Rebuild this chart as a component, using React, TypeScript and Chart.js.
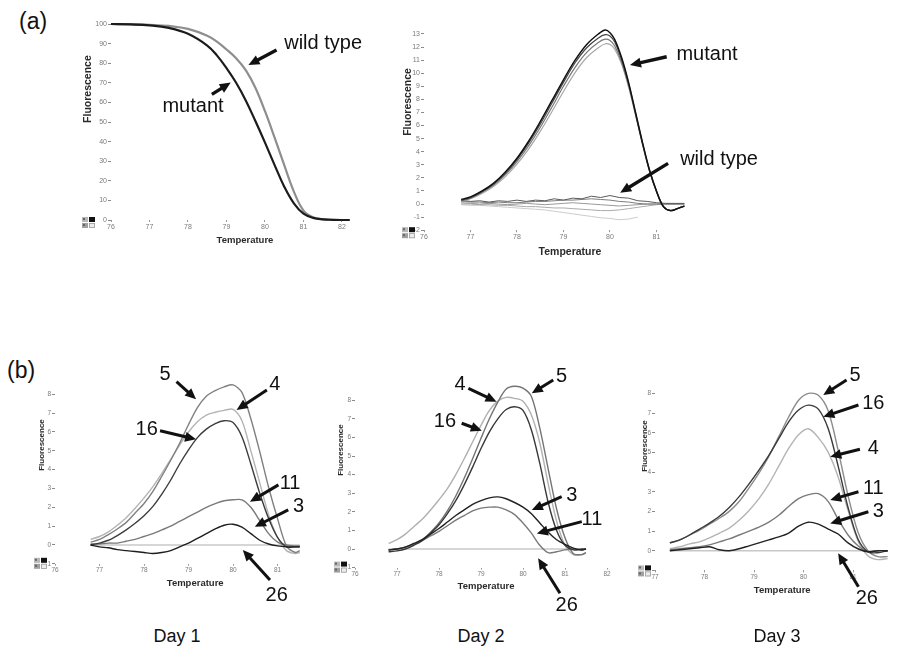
import React, { useEffect, useRef } from "react";
import { Chart, registerables } from "chart.js";

Chart.register(...registerables);
Chart.defaults.font.family = '"Liberation Sans", Arial, sans-serif';

// ---------- (a) melting curves, fluorescence (%) vs temperature ----------
const meltTemps = [76, 76.5, 77, 77.5, 78, 78.5, 78.75, 79, 79.25, 79.5, 79.75, 80, 80.25, 80.5, 80.75, 81, 81.25, 81.5, 81.75, 82, 82.2];
const meltMutant = [100, 99.8, 99.3, 98, 95, 89, 84, 77.5, 70, 61, 50.5, 39.5, 28, 17, 8.5, 3.2, 1.1, 0.35, 0.1, 0, 0];
const meltWild = [100, 99.9, 99.6, 99, 97.5, 94, 91, 87, 82.5, 76.5, 67.5, 55.5, 42, 28, 14.5, 4.8, 1.4, 0.45, 0.1, 0, 0];

// ---------- (a) melting peaks (-dF/dT) ----------
const peakTemps = [76.8, 77.0, 77.25, 77.5, 77.75, 78.0, 78.25, 78.5, 78.75, 79.0, 79.25, 79.5, 79.75, 79.9, 80.0, 80.1, 80.25, 80.4, 80.55, 80.7, 80.85, 81.0, 81.15, 81.3, 81.45, 81.6];
const peakMutantA = [0.35, 0.55, 1.0, 1.6, 2.45, 3.5, 4.8, 6.3, 7.9, 9.5, 11.0, 12.2, 13.0, 13.3, 13.1, 12.6, 11.2, 9.3, 7.0, 4.7, 2.6, 1.0, -0.2, -0.5, -0.35, -0.15];
const peakMutantB = [0.3, 0.5, 0.95, 1.55, 2.35, 3.4, 4.65, 6.1, 7.7, 9.3, 10.8, 11.95, 12.7, 12.95, 12.85, 12.4, 11.05, 9.2, 6.95, 4.65, 2.6, 1.0, -0.2, -0.5, -0.35, -0.15];
const peakMutantC = [0.25, 0.45, 0.9, 1.45, 2.25, 3.25, 4.45, 5.85, 7.4, 9.0, 10.45, 11.6, 12.35, 12.6, 12.5, 12.1, 10.85, 9.05, 6.85, 4.6, 2.55, 0.95, -0.2, -0.5, -0.35, -0.15];
const peakMutantD = [0.2, 0.4, 0.8, 1.35, 2.1, 3.05, 4.2, 5.55, 7.05, 8.6, 10.05, 11.2, 11.95, 12.25, 12.2, 11.85, 10.7, 8.95, 6.8, 4.55, 2.5, 0.95, -0.2, -0.5, -0.35, -0.15];

const wildTemps = [76.8, 77.0, 77.2, 77.4, 77.6, 77.8, 78.0, 78.2, 78.4, 78.6, 78.8, 79.0, 79.2, 79.4, 79.6, 79.8, 80.0, 80.2, 80.4, 80.6, 80.8, 81.0, 81.2, 81.4, 81.6];
const peakWild1 = [0.3, 0.2, 0.25, 0.15, 0.25, 0.2, 0.3, 0.2, 0.3, 0.25, 0.4, 0.3, 0.45, 0.4, 0.6, 0.5, 0.65, 0.5, 0.45, 0.25, 0.2, 0.1, 0.05, 0.05, 0.05];
const peakWild2 = [0.2, 0.15, 0.15, 0.1, 0.15, 0.1, 0.1, 0.15, 0.2, 0.2, 0.25, 0.3, 0.3, 0.35, 0.4, 0.35, 0.3, 0.2, 0.15, 0.05, 0.0, 0.0, 0.0, 0.0, 0.0];
const peakWild3 = [0.1, 0.05, 0.0, 0.05, 0.0, -0.05, 0.0, 0.05, 0.0, -0.05, 0.0, 0.05, 0.1, 0.05, 0.0, -0.05, -0.1, -0.15, -0.1, -0.05, 0.0, 0.0, 0.0, 0.0, 0.0];
const peakWild4 = [0.0, 0.0, -0.05, -0.05, -0.1, -0.1, -0.15, -0.2, -0.2, -0.25, -0.3, -0.3, -0.35, -0.4, -0.45, -0.5, -0.5, -0.45, -0.35, -0.25, -0.15, -0.05, 0.0, 0.0, 0.0];
const peakWild5 = [-0.05, -0.1, -0.1, -0.15, -0.2, -0.25, -0.3, -0.35, -0.4, -0.45, -0.55, -0.65, -0.75, -0.85, -0.95, -1.05, -1.1, -1.2, -1.15, -1.0];

// ---------- (b) samples on three days ----------
const dayTemps = [76.8, 77.0, 77.2, 77.4, 77.6, 77.8, 78.0, 78.2, 78.4, 78.6, 78.8, 79.0, 79.2, 79.4, 79.6, 79.8, 80.0, 80.2, 80.4, 80.6, 80.8, 81.0, 81.2, 81.4, 81.5];

const day1S5 = [0.15, 0.3, 0.55, 0.85, 1.2, 1.7, 2.2, 2.85, 3.65, 4.5, 5.4, 6.4, 7.3, 7.9, 8.2, 8.4, 8.5, 8.1, 6.7, 4.95, 3.05, 1.4, -0.05, -0.4, -0.3];
const day1S4 = [0.3, 0.45, 0.7, 1.05, 1.45, 1.95, 2.5, 3.1, 3.8, 4.55, 5.3, 6.0, 6.55, 6.9, 7.05, 7.15, 7.2, 6.6, 5.0, 3.3, 1.6, 0.4, -0.3, -0.45, -0.4];
const day1S16 = [0.0, 0.1, 0.25, 0.5, 0.8, 1.15, 1.55, 2.05, 2.7, 3.45, 4.3, 5.05, 5.7, 6.15, 6.45, 6.6, 6.5, 5.75, 4.3, 2.75, 1.4, 0.4, -0.1, -0.1, -0.1];
const day1S11 = [0.05, 0.05, 0.1, 0.1, 0.2, 0.3, 0.45, 0.6, 0.8, 1.0, 1.25, 1.5, 1.75, 2.0, 2.2, 2.35, 2.4, 2.4, 2.0, 1.3, 0.6, 0.15, 0.0, -0.05, -0.05];
const day1S3 = [0.0, -0.1, -0.15, -0.25, -0.3, -0.35, -0.4, -0.45, -0.4, -0.3, -0.1, 0.1, 0.35, 0.6, 0.85, 1.05, 1.1, 0.95, 0.6, 0.25, 0.05, -0.05, -0.1, -0.1, -0.1];
const day1S26 = [0, 0, 0, 0, 0, 0, 0, 0, 0, 0, 0, 0, 0, 0, 0, 0, 0, 0, 0, 0, 0, 0, 0, 0, 0];

const day2S5 = [-0.05, 0.0, 0.1, 0.25, 0.5, 0.9, 1.4, 2.05, 2.85, 3.8, 4.85, 5.95, 7.0, 7.9, 8.6, 8.75, 8.65, 8.2, 6.5, 4.3, 2.15, 0.6, -0.25, -0.3, -0.2];
const day2S4 = [0.3, 0.5, 0.8, 1.2, 1.6, 2.1, 2.65, 3.25, 4.0, 4.85, 5.75, 6.65, 7.45, 7.95, 8.15, 8.1, 7.95, 7.2, 5.7, 3.5, 1.5, 0.2, -0.3, -0.3, -0.2];
const day2S16 = [-0.15, -0.1, 0.0, 0.2, 0.45, 0.85, 1.3, 1.9, 2.6, 3.45, 4.4, 5.4, 6.3, 7.0, 7.5, 7.65, 7.45, 6.4, 4.6, 2.5, 1.0, 0.2, -0.05, 0.0, 0.0];
const day2S3 = [-0.05, 0.0, 0.1, 0.3, 0.5, 0.8, 1.1, 1.45, 1.8, 2.1, 2.4, 2.6, 2.75, 2.8, 2.7, 2.5, 2.25, 1.9, 1.4, 0.9, 0.5, 0.25, 0.05, -0.05, 0.0];
const day2S11 = [-0.05, 0.0, 0.1, 0.25, 0.45, 0.7, 0.95, 1.25, 1.55, 1.8, 2.05, 2.2, 2.25, 2.25, 2.1, 1.85, 1.4, 0.85, 0.2, -0.2, -0.15, -0.05, 0.0, -0.05, 0.0];
const day2S26 = [0, 0, 0, 0, 0, 0, 0, 0, 0, 0, 0, 0, 0, 0, 0, 0, 0, 0, 0, 0, 0, 0, 0, 0, 0];

const day3Temps = [77.3, 77.5, 77.7, 77.9, 78.1, 78.3, 78.5, 78.7, 78.9, 79.1, 79.3, 79.5, 79.7, 79.9, 80.1, 80.3, 80.5, 80.7, 80.9, 81.1, 81.3, 81.5, 81.7];
const day3S5 = [0.4, 0.55, 0.8, 1.05, 1.35, 1.65, 2.0, 2.5, 3.2, 3.95, 4.8, 5.8, 6.8, 7.65, 8.0, 7.9, 7.1, 5.1, 2.8, 0.95, 0.0, -0.3, -0.3];
const day3S16 = [0.4, 0.55, 0.8, 1.1, 1.4, 1.75, 2.2, 2.75, 3.4, 4.1, 4.85, 5.7, 6.55, 7.15, 7.4, 7.2, 6.2, 4.3, 2.2, 0.6, -0.05, -0.1, 0.0];
const day3S4 = [0.1, 0.2, 0.35, 0.45, 0.65, 0.9, 1.15, 1.55, 2.05, 2.65, 3.4, 4.3, 5.2, 5.9, 6.2, 5.75, 5.0, 3.75, 2.05, 0.5, -0.25, -0.45, -0.4];
const day3S11 = [0.05, 0.1, 0.15, 0.2, 0.3, 0.45, 0.6, 0.8, 1.0, 1.2, 1.45, 1.8, 2.25, 2.65, 2.85, 2.9, 2.5, 1.6, 0.8, 0.25, -0.05, 0.0, 0.0];
const day3S3 = [0.0, 0.05, 0.1, 0.15, 0.2, 0.05, 0.0, 0.1, 0.25, 0.4, 0.55, 0.7, 0.9, 1.25, 1.45, 1.35, 1.1, 0.85, 0.4, 0.1, -0.05, 0.0, 0.0];
const day3S26 = [0, 0, 0, 0, 0, 0, 0, 0, 0, 0, 0, 0, 0, 0, 0, 0, 0, 0, 0, 0, 0, 0, 0];

const dayTitles = ["Day 1", "Day 2", "Day 3"];

// ---------- panel descriptions ----------
type Series = { temps: number[]; values: number[]; color: string; width: number; tension: number };
type Note = { label: string; at: [number, number]; align?: CanvasTextAlign; from?: [number, number]; to?: [number, number] };
type PanelSpec = {
  box: [number, number, number, number]; // left, top, width, height of the canvas on the page
  area: [number, number, number, number]; // plot area: left, top, right, bottom on the page
  x: [number, number];
  y: [number, number];
  yStep: number;
  yLabelMax: number;
  tickSize: number;
  icon: [number, number];
  yTitle: [number, number];
  yTitleSize: number;
  xTitle: [number, number];
  xTitleSize: number;
  arrowWidth: number;
  series: Series[];
  notes: Note[];
};

const s = (temps: number[], values: number[], color: string, width = 1.4, tension = 0.3): Series => ({ temps, values, color, width, tension });

const panels: PanelSpec[] = [
  {
    box: [60, 0, 330, 260],
    area: [111, 24, 349.7, 220],
    x: [76, 82.2],
    y: [0, 100],
    yStep: 10,
    yLabelMax: 100,
    tickSize: 7,
    icon: [-29, -3],
    yTitle: [75.4, 66.8],
    yTitleSize: 10.5,
    xTitle: [79.48, -10.2],
    xTitleSize: 9.5,
    arrowWidth: 3.4,
    series: [s(meltTemps, meltMutant, "#1c1c1c", 2.2, 0.4), s(meltTemps, meltWild, "#8e8e8e", 2.2, 0.4)],
    notes: [
      { label: "wild type", at: [81.51, 90.3], from: [80.3, 86.7], to: [79.57, 79.1] },
      { label: "mutant", at: [78.13, 57.7], from: [78.62, 64.1], to: [79.11, 70.1] },
    ],
  },
  {
    box: [385, 0, 400, 270],
    area: [424, 20.9, 689, 230.2],
    x: [76, 81.7],
    y: [-2, 14],
    yStep: 1,
    yLabelMax: 13,
    tickSize: 7,
    icon: [-22, -3],
    yTitle: [75.66, 7.8],
    yTitleSize: 10.5,
    xTitle: [79.14, -3.67],
    xTitleSize: 10.5,
    arrowWidth: 3.4,
    series: [
      s(peakTemps, peakMutantA, "#111111", 1.5, 0.35),
      s(peakTemps, peakMutantB, "#444444", 1.2, 0.35),
      s(peakTemps, peakMutantC, "#777777", 1.2, 0.35),
      s(peakTemps, peakMutantD, "#a8a8a8", 1.2, 0.35),
      s(wildTemps, peakWild1, "#5a5a5a", 1, 0),
      s(wildTemps, peakWild2, "#7c7c7c", 1, 0),
      s(wildTemps, peakWild3, "#999999", 1, 0),
      s(wildTemps, peakWild4, "#ababab", 1, 0),
      s(wildTemps, peakWild5, "#cccccc", 1, 0),
    ],
    notes: [
      { label: "mutant", at: [81.43, 11.47], align: "left", from: [81.22, 11.26], to: [80.43, 10.63] },
      { label: "wild type", at: [81.51, 3.44], align: "left", from: [81.25, 3.11], to: [80.22, 0.86] },
    ],
  },
  {
    box: [25, 355, 290, 260],
    area: [55, 375.5, 299.8, 563.8],
    x: [76, 81.5],
    y: [-1, 9],
    yStep: 1,
    yLabelMax: 8,
    tickSize: 6.5,
    icon: [-21, -6],
    yTitle: [75.7, 5.31],
    yTitleSize: 8,
    xTitle: [79.15, -2.02],
    xTitleSize: 9.5,
    arrowWidth: 3,
    series: [
      s(dayTemps, day1S3, "#1e1e1e"),
      s(dayTemps, day1S16, "#3c3c3c"),
      s(dayTemps, day1S11, "#7a7a7a"),
      s(dayTemps, day1S5, "#808080"),
      s(dayTemps, day1S4, "#b4b4b4"),
      s(dayTemps, day1S26, "#c8c8c8", 1.5, 0),
    ],
    notes: [
      { label: "5", at: [78.47, 9.03], from: [78.73, 8.67], to: [79.17, 7.74] },
      { label: "4", at: [80.94, 8.5], from: [80.76, 8.23], to: [80.08, 7.17] },
      { label: "16", at: [78.06, 6.11], from: [78.36, 6.07], to: [79.17, 5.61] },
      { label: "11", at: [81.28, 3.28], from: [81.02, 3.19], to: [80.38, 2.3] },
      { label: "3", at: [81.47, 2.03], from: [81.24, 1.86], to: [80.49, 0.97] },
      { label: "26", at: [80.98, -2.66], from: [80.83, -1.86], to: [80.22, -0.27] },
    ],
  },
  {
    box: [320, 355, 300, 260],
    area: [355, 381.6, 607, 567.6],
    x: [76, 82],
    y: [-1, 9],
    yStep: 1,
    yLabelMax: 8,
    tickSize: 6.5,
    icon: [-21, -6],
    yTitle: [75.66, 5.32],
    yTitleSize: 8,
    xTitle: [79.12, -1.99],
    xTitleSize: 9.5,
    arrowWidth: 3,
    series: [
      s(dayTemps, day2S3, "#222222"),
      s(dayTemps, day2S16, "#383838"),
      s(dayTemps, day2S11, "#7a7a7a"),
      s(dayTemps, day2S5, "#747474"),
      s(dayTemps, day2S4, "#b0b0b0"),
      s(dayTemps, day2S26, "#c8c8c8", 1.5, 0),
    ],
    notes: [
      { label: "4", at: [78.5, 8.82], from: [78.7, 8.64], to: [79.37, 7.92] },
      { label: "5", at: [80.92, 9.26], from: [80.72, 9.09], to: [80.21, 8.37] },
      { label: "16", at: [78.14, 6.84], from: [78.54, 6.76], to: [79.02, 6.36] },
      { label: "3", at: [81.16, 2.9], from: [80.92, 2.81], to: [80.21, 2.1] },
      { label: "11", at: [81.64, 1.56], from: [81.4, 1.47], to: [80.33, 0.84] },
      { label: "26", at: [81.04, -3.01], from: [80.88, -2.38], to: [80.36, -0.5] },
    ],
  },
  {
    box: [615, 355, 300, 260],
    area: [655, 373.7, 902.5, 570.4],
    x: [77, 82],
    y: [-1, 9],
    yStep: 1,
    yLabelMax: 8,
    tickSize: 6.5,
    icon: [-17, -5],
    yTitle: [76.8, 5.32],
    yTitleSize: 8,
    xTitle: [79.57, -2.0],
    xTitleSize: 9.5,
    arrowWidth: 3,
    series: [
      s(day3Temps, day3S3, "#222222"),
      s(day3Temps, day3S16, "#3a3a3a"),
      s(day3Temps, day3S11, "#7a7a7a"),
      s(day3Temps, day3S5, "#8c8c8c"),
      s(day3Temps, day3S4, "#b4b4b4"),
      s(day3Temps, day3S26, "#c8c8c8", 1.5, 0),
    ],
    notes: [
      { label: "5", at: [81.04, 8.93], from: [80.87, 8.68], to: [80.4, 7.92] },
      { label: "16", at: [81.41, 7.49], from: [81.11, 7.41], to: [80.4, 6.81] },
      { label: "4", at: [81.41, 5.21], from: [81.14, 5.16], to: [80.54, 4.78] },
      { label: "11", at: [81.41, 3.17], from: [81.11, 3.0], to: [80.54, 2.58] },
      { label: "3", at: [81.51, 1.98], from: [81.31, 1.98], to: [80.54, 1.39] },
      { label: "26", at: [81.28, -2.42], from: [81.11, -1.83], to: [80.7, -0.13] },
    ],
  },
];

const dayTitleCenters = [177, 481, 777];

const FONT = '"Liberation Sans", Arial, sans-serif';
const Y_AXIS_W = 30;
const X_AXIS_H = 14;

function drawArrow(ctx: CanvasRenderingContext2D, x1: number, y1: number, x2: number, y2: number, w: number) {
  const ang = Math.atan2(y2 - y1, x2 - x1);
  const head = 11;
  const half = 5;
  const c = Math.cos(ang);
  const sn = Math.sin(ang);
  const bx = x2 - head * c;
  const by = y2 - head * sn;
  ctx.lineWidth = w;
  ctx.lineCap = "butt";
  ctx.beginPath();
  ctx.moveTo(x1, y1);
  ctx.lineTo(bx + c, by + sn);
  ctx.stroke();
  ctx.beginPath();
  ctx.moveTo(x2, y2);
  ctx.lineTo(bx + half * sn, by - half * c);
  ctx.lineTo(bx - half * sn, by + half * c);
  ctx.closePath();
  ctx.fill();
}

function drawBadge(ctx: CanvasRenderingContext2D, x: number, y: number) {
  // small two-by-two view selector in the plot corner
  ctx.fillStyle = "#ffffff";
  ctx.fillRect(x, y, 13, 11);
  ctx.fillStyle = "#b8b8b8";
  ctx.fillRect(x, y, 6, 5);
  ctx.fillStyle = "#111111";
  ctx.fillRect(x + 7, y, 6, 5);
  ctx.fillStyle = "#a0a0a0";
  ctx.fillRect(x, y + 6, 6, 5);
  ctx.fillStyle = "#ececec";
  ctx.fillRect(x + 7, y + 6, 6, 5);
  ctx.strokeStyle = "#9a9a9a";
  ctx.lineWidth = 0.8;
  ctx.strokeRect(x + 7.4, y + 6.4, 5.2, 4.2);
  ctx.fillStyle = "#666";
  ctx.fillRect(x + 1, y + 1, 2, 2);
  ctx.fillRect(x + 1, y + 7, 2, 2);
}

function notesPlugin(spec: PanelSpec) {
  return {
    id: "notes",
    afterDraw(chart: any) {
      const { ctx, chartArea } = chart;
      const xs = chart.scales.x;
      const ys = chart.scales.y;
      const px = (v: number) => xs.getPixelForValue(v);
      const py = (v: number) => ys.getPixelForValue(v);
      ctx.save();
      drawBadge(ctx, chartArea.left + spec.icon[0], chartArea.bottom + spec.icon[1]);

      ctx.fillStyle = "#2a2a2a";
      ctx.textAlign = "center";
      ctx.textBaseline = "middle";
      ctx.font = `bold ${spec.yTitleSize}px ${FONT}`;
      ctx.save();
      ctx.translate(px(spec.yTitle[0]), py(spec.yTitle[1]));
      ctx.rotate(-Math.PI / 2);
      ctx.fillText("Fluorescence", 0, 0);
      ctx.restore();
      ctx.font = `bold ${spec.xTitleSize}px ${FONT}`;
      ctx.fillText("Temperature", px(spec.xTitle[0]), py(spec.xTitle[1]));

      ctx.fillStyle = "#111111";
      ctx.strokeStyle = "#111111";
      ctx.font = `20px ${FONT}`;
      for (const n of spec.notes) {
        ctx.textAlign = n.align ?? "center";
        ctx.fillText(n.label, px(n.at[0]), py(n.at[1]));
        if (n.from && n.to) drawArrow(ctx, px(n.from[0]), py(n.from[1]), px(n.to[0]), py(n.to[1]), spec.arrowWidth);
      }
      ctx.restore();
    },
  };
}

// whole-number ticks between the bounds of an axis
function wholeTicks(lo: number, hi: number, step: number) {
  const out: { value: number }[] = [];
  for (let v = Math.ceil(lo / step) * step; v <= hi + 1e-9; v += step) out.push({ value: v });
  return out;
}

function Panel({ spec }: { spec: PanelSpec }) {
  const ref = useRef<HTMLCanvasElement>(null);
  const [bl, bt, bw, bh] = spec.box;
  useEffect(() => {
    const canvas = ref.current;
    if (!canvas) return;
    const [al, at, ar, ab] = spec.area;
    const padding = {
      left: al - bl - Y_AXIS_W,
      top: at - bt,
      right: bl + bw - ar,
      bottom: bt + bh - ab - X_AXIS_H,
    };
    const tickFont = { size: spec.tickSize, family: FONT };
    const chart = new Chart(canvas, {
      type: "line",
      data: {
        datasets: spec.series.map((sr) => ({
          data: sr.values.map((v, i) => ({ x: sr.temps[i], y: v })),
          borderColor: sr.color,
          borderWidth: sr.width,
          tension: sr.tension,
          pointRadius: 0,
          fill: false,
          clip: false as any,
        })),
      },
      options: {
        animation: false,
        responsive: false,
        maintainAspectRatio: false,
        devicePixelRatio: 1,
        events: [],
        layout: { padding },
        plugins: { legend: { display: false }, tooltip: { enabled: false } },
        scales: {
          x: {
            type: "linear",
            min: spec.x[0],
            max: spec.x[1],
            afterBuildTicks: (axis: any) => {
              axis.ticks = wholeTicks(spec.x[0], Math.floor(spec.x[1]), 1);
            },
            afterFit: (axis: any) => {
              axis.height = X_AXIS_H;
            },
            ticks: { stepSize: 1, autoSkip: false, maxRotation: 0, padding: 1, color: "#7a7a7a", font: tickFont },
            grid: { drawOnChartArea: false, drawTicks: true, tickLength: 2, color: "#9a9a9a" },
            border: { display: false },
          },
          y: {
            type: "linear",
            min: spec.y[0],
            max: spec.y[1],
            afterBuildTicks: (axis: any) => {
              axis.ticks = wholeTicks(spec.y[0], spec.yLabelMax, spec.yStep);
            },
            afterFit: (axis: any) => {
              axis.width = Y_AXIS_W;
            },
            ticks: { stepSize: spec.yStep, autoSkip: false, padding: 1, color: "#7a7a7a", font: tickFont },
            grid: { drawOnChartArea: false, drawTicks: true, tickLength: 3, color: "#8a8a8a" },
            border: { display: false },
          },
        },
      },
      plugins: [notesPlugin(spec)],
    });
    return () => chart.destroy();
  }, [spec]);
  return (
    <canvas
      ref={ref}
      width={bw}
      height={bh}
      style={{ position: "absolute", left: bl, top: bt, width: bw, height: bh }}
    />
  );
}

export default function App() {
  return (
    <div
      style={{
        position: "absolute",
        left: 0,
        top: 0,
        width: 897,
        height: 647,
        overflow: "hidden",
        background: "#ffffff",
        fontFamily: FONT,
        color: "#111111",
      }}
    >
      <div style={{ position: "absolute", left: 19, top: 8, fontSize: 23, lineHeight: "26px" }}>(a)</div>
      <div style={{ position: "absolute", left: 7, top: 357, fontSize: 23, lineHeight: "26px" }}>(b)</div>
      {panels.map((p, i) => (
        <Panel key={i} spec={p} />
      ))}
      {dayTitles.map((t, i) => (
        <div
          key={t}
          style={{
            position: "absolute",
            left: dayTitleCenters[i],
            top: 626,
            transform: "translateX(-50%)",
            fontSize: 18,
            lineHeight: "20px",
            whiteSpace: "nowrap",
          }}
        >
          {t}
        </div>
      ))}
    </div>
  );
}
